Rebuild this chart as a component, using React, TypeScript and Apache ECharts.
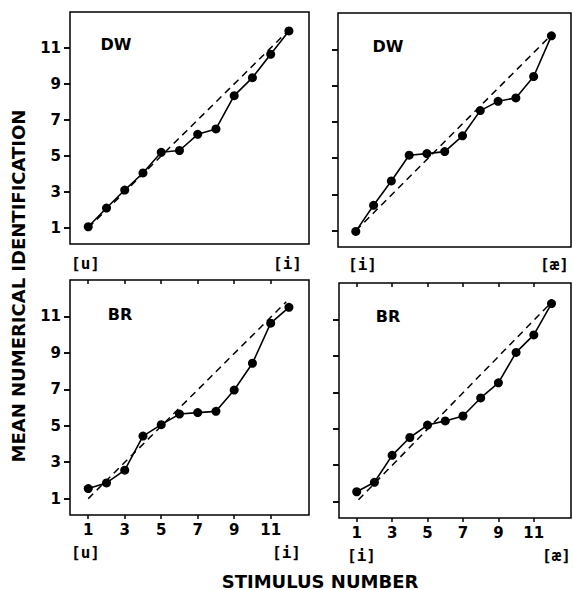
import { useEffect, useRef } from "react";
import * as echarts from "echarts";

// Stimulus numbers (x) and mean numerical identification (y)
const stimulus = [1, 2, 3, 4, 5, 6, 7, 8, 9, 10, 11, 12];
const dwUI = [1.06, 2.1, 3.1, 4.05, 5.2, 5.3, 6.2, 6.5, 8.35, 9.35, 10.65, 11.95];
const dwIAE = [0.96, 2.4, 3.74, 5.16, 5.25, 5.36, 6.23, 7.62, 8.13, 8.32, 9.5, 11.74];
const brUI = [1.55, 1.86, 2.56, 4.43, 5.06, 5.64, 5.72, 5.79, 6.96, 8.43, 10.63, 11.5];
const brIAE = [1.54, 2.06, 3.54, 4.52, 5.2, 5.43, 5.7, 6.69, 7.52, 9.19, 10.15, 11.87];

// Dashed reference lines (start/end points)
const refDwUI = [[1, 1], [12, 12]];
const refDwIAE = [[1, 1], [11.85, 11.65]];
const refBrUI = [[1, 1], [11.85, 11.8]];
const refBrIAE = [[1.1, 1.1], [11.85, 11.8]];

const yTicks = [1, 3, 5, 7, 9, 11];
const xTicks = [1, 3, 5, 7, 9, 11];

const speakerLabels = ["DW", "DW", "BR", "BR"];
const leftVowels = ["[u]", "[i]", "[u]", "[i]"];
const rightVowels = ["[i]", "[æ]", "[i]", "[æ]"];

const yTitle = "MEAN NUMERICAL IDENTIFICATION";
const xTitle = "STIMULUS NUMBER";

const X_MIN = 0;
const X_MAX = 13.1;
const Y_MIN = 0.1;
const Y_MAX = 13;

const grids = [
  { left: 70, top: 12, width: 239, height: 232 },
  { left: 338, top: 13, width: 233, height: 234 },
  { left: 70, top: 280, width: 239, height: 235 },
  { left: 339, top: 283, width: 232, height: 235 },
];

export default function App() {
  const ref = useRef<HTMLDivElement>(null);

  useEffect(() => {
    if (!ref.current) return;
    const chart = echarts.init(ref.current, undefined, { renderer: "svg" });

    const numFont = "DejaVu Sans";
    const xAxes: any[] = [];
    const yAxes: any[] = [];
    grids.forEach((_, g) => {
      const bottom = g >= 2;
      const leftCol = g % 2 === 0;
      xAxes.push({
        type: "value",
        gridIndex: g,
        min: X_MIN,
        max: X_MAX,
        show: bottom,
        axisLine: { show: false },
        splitLine: { show: false },
        axisTick: {
          show: true,
          length: 4,
          customValues: xTicks,
          lineStyle: { color: "#000", width: 1.5 },
        },
        axisLabel: {
          show: true,
          customValues: xTicks,
          margin: 7,
          color: "#000",
          fontFamily: numFont,
          fontWeight: "bold",
          fontSize: 15,
        },
      });
      xAxes.push({
        type: "value",
        gridIndex: g,
        min: X_MIN,
        max: X_MAX,
        show: bottom,
        axisLine: { show: false },
        splitLine: { show: false },
        axisLabel: { show: false },
        axisTick: {
          show: true,
          inside: true,
          length: 4,
          customValues: xTicks,
          lineStyle: { color: "#000", width: 1.5 },
        },
      });
      yAxes.push({
        type: "value",
        gridIndex: g,
        min: Y_MIN,
        max: Y_MAX,
        axisLine: { show: false },
        splitLine: { show: false },
        axisTick: {
          show: true,
          length: 6,
          customValues: yTicks,
          lineStyle: { color: "#000", width: 1.5 },
        },
        axisLabel: {
          show: leftCol,
          customValues: yTicks,
          margin: 9,
          color: "#000",
          fontFamily: numFont,
          fontWeight: "bold",
          fontSize: 15,
        },
      });
      yAxes.push({
        type: "value",
        gridIndex: g,
        min: Y_MIN,
        max: Y_MAX,
        axisLine: { show: false },
        splitLine: { show: false },
        axisLabel: { show: false },
        axisTick: {
          show: true,
          inside: true,
          length: 6,
          customValues: yTicks,
          lineStyle: { color: "#000", width: 1.5 },
        },
      });
    });

    const panelData = [dwUI, dwIAE, brUI, brIAE];
    const refData = [refDwUI, refDwIAE, refBrUI, refBrIAE];
    const series: any[] = [];
    panelData.forEach((vals, g) => {
      series.push({
        type: "line",
        xAxisIndex: g * 2,
        yAxisIndex: g * 2,
        data: refData[g],
        symbol: "none",
        lineStyle: { color: "#000", width: 1.5, type: [7, 5] },
        z: 2,
        silent: true,
      });
      series.push({
        type: "line",
        xAxisIndex: g * 2,
        yAxisIndex: g * 2,
        data: stimulus.map((s, i) => [s, vals[i]]),
        symbol: "circle",
        symbolSize: 9,
        itemStyle: { color: "#000" },
        lineStyle: { color: "#000", width: 1.6 },
        z: 3,
      });
    });

    const bracketFont = "DejaVu Sans Mono";
    const graphics: any[] = [];
    const labelPos = [
      { x: 116, y: 44 },
      { x: 388, y: 46 },
      { x: 120, y: 314 },
      { x: 388, y: 316 },
    ];
    speakerLabels.forEach((t, g) => {
      graphics.push({
        type: "text",
        x: labelPos[g].x,
        y: labelPos[g].y,
        style: {
          text: t,
          fill: "#000",
          font: "bold 16px 'DejaVu Sans'",
          textAlign: "center",
          textVerticalAlign: "middle",
        },
      });
    });
    const vowelPos = [
      { lx: 71, rx: 302, y: 263 },
      { lx: 348, rx: 569, y: 264 },
      { lx: 71, rx: 301, y: 552 },
      { lx: 347, rx: 571, y: 555 },
    ];
    vowelPos.forEach((p, g) => {
      graphics.push({
        type: "text",
        x: p.lx,
        y: p.y,
        style: {
          text: leftVowels[g],
          fill: "#000",
          font: `bold 16px '${bracketFont}'`,
          textAlign: "left",
          textVerticalAlign: "middle",
        },
      });
      graphics.push({
        type: "text",
        x: p.rx,
        y: p.y,
        style: {
          text: rightVowels[g],
          fill: "#000",
          font: `bold 16px '${bracketFont}'`,
          textAlign: "right",
          textVerticalAlign: "middle",
        },
      });
    });
    graphics.push({
      type: "text",
      x: 18,
      y: 286,
      rotation: Math.PI / 2,
      style: {
        text: yTitle,
        fill: "#000",
        font: "bold 18px 'DejaVu Sans'",
        textAlign: "center",
        textVerticalAlign: "middle",
      },
    });
    graphics.push({
      type: "text",
      x: 320,
      y: 581,
      style: {
        text: xTitle,
        fill: "#000",
        font: "bold 18px 'DejaVu Sans'",
        textAlign: "center",
        textVerticalAlign: "middle",
      },
    });

    chart.setOption({
      animation: false,
      backgroundColor: "#fff",
      grid: grids.map((g) => ({
        ...g,
        show: true,
        borderColor: "#000",
        borderWidth: 1.5,
        backgroundColor: "transparent",
        containLabel: false,
      })),
      xAxis: xAxes,
      yAxis: yAxes,
      series,
      graphic: graphics,
    });

    return () => chart.dispose();
  }, []);

  return (
    <div
      ref={ref}
      style={{ position: "absolute", left: 0, top: 0, width: 573, height: 590 }}
    />
  );
}
